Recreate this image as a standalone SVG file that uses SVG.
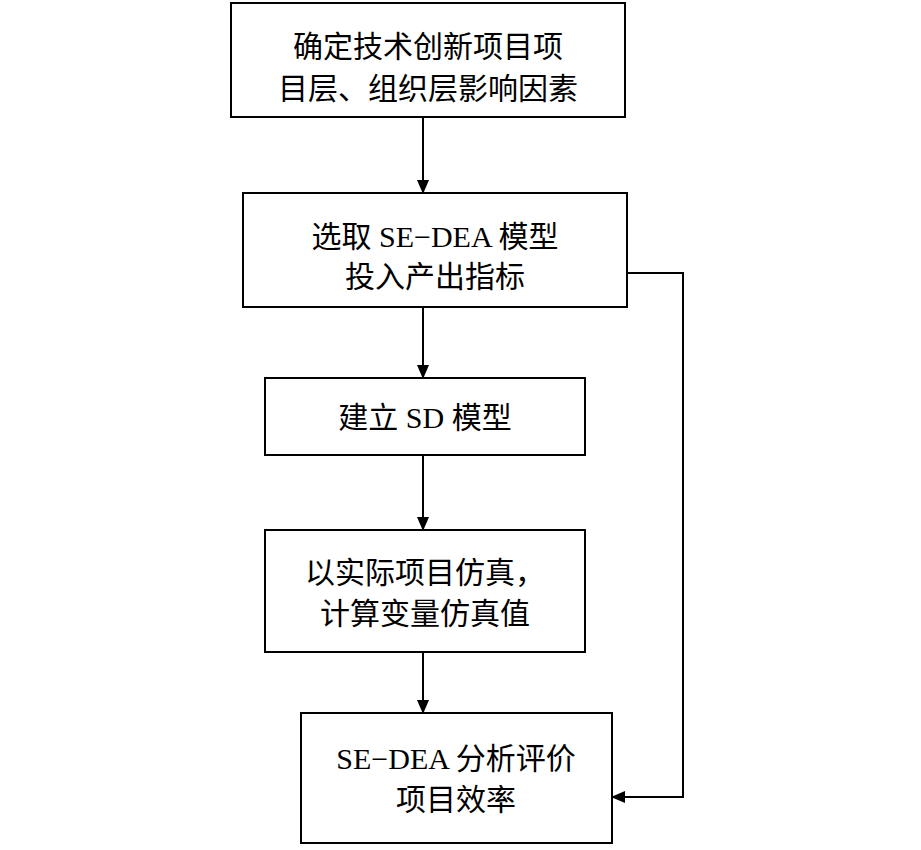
<svg xmlns="http://www.w3.org/2000/svg" width="921" height="850" viewBox="0 0 921 850">
<style>
.b{fill:#fff;stroke:#000;stroke-width:2}
.t{font-family:"Liberation Serif","Noto Sans CJK SC",serif;font-size:30px;text-anchor:middle;fill:#000}
.c{fill:none;stroke:#000;stroke-width:2;marker-end:url(#a)}
</style>
<defs><marker id="a" markerWidth="14" markerHeight="12" refX="13" refY="6" orient="auto" markerUnits="userSpaceOnUse"><path d="M0,0 L14,6 L0,12 Z"/></marker></defs>
<rect width="921" height="850" fill="#fff"/>
<g id="n1"><rect class="b" x="231" y="3" width="394" height="114"/><text class="t" x="428" y="57">确定技术创新项目项</text><text class="t" x="428" y="99">目层、组织层影响因素</text></g>
<g id="n2"><rect class="b" x="243" y="193" width="384" height="114"/><text class="t" x="435" y="247">选取 SE−DEA 模型</text><text class="t" x="435" y="287">投入产出指标</text></g>
<g id="n3"><rect class="b" x="265" y="378" width="320" height="77"/><text class="t" x="425" y="428">建立 SD 模型</text></g>
<g id="n4"><rect class="b" x="265" y="530" width="320" height="122"/><text class="t" x="425" y="583">以实际项目仿真，</text><text class="t" x="425" y="624">计算变量仿真值</text></g>
<g id="n5"><rect class="b" x="301" y="713" width="311" height="130"/><text class="t" x="456" y="769">SE−DEA 分析评价</text><text class="t" x="456" y="810">项目效率</text></g>
<g id="edges">
<path class="c" d="M423,117 V193"/>
<path class="c" d="M423,307 V378"/>
<path class="c" d="M423,455 V530"/>
<path class="c" d="M423,652 V713"/>
<path class="c" d="M627,273 H683 V797 H612"/>
</g>
</svg>
